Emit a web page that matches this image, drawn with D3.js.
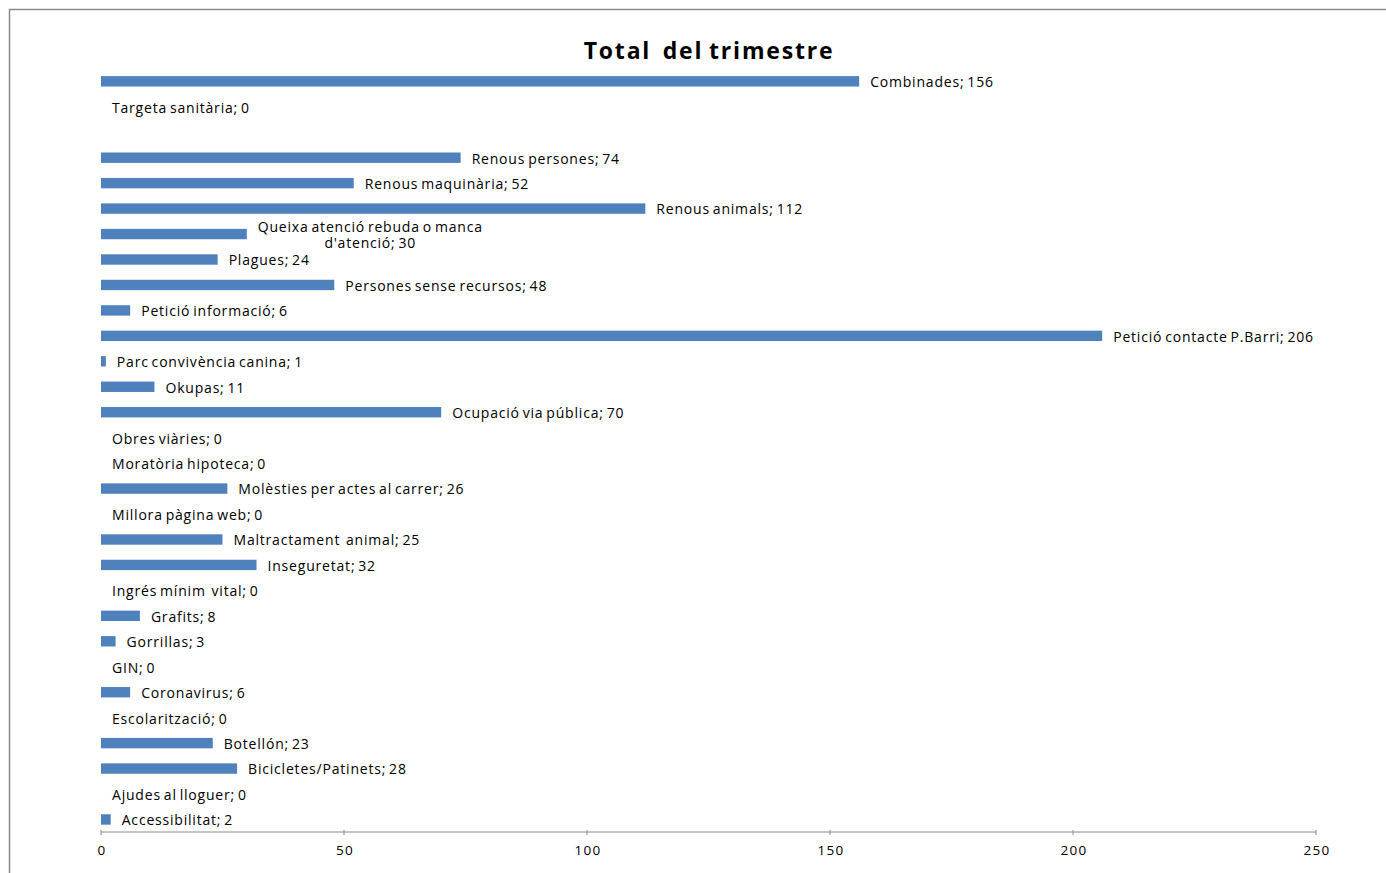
<!DOCTYPE html>
<html><head><meta charset="utf-8">
<script src="https://cdn.jsdelivr.net/npm/d3@7"></script>
<style>
html,body{margin:0;padding:0;background:#fff;}
svg{display:block;}
</style></head>
<body>
<svg id="c" width="1386" height="873"></svg>
<script>
const categories = ["Combinades","Targeta sanitària","","Renous persones","Renous maquinària","Renous animals","Queixa atenció rebuda o manca d'atenció","Plagues","Persones sense recursos","Petició informació","Petició contacte P.Barri","Parc convivència canina","Okupas","Ocupació via pública","Obres viàries","Moratòria hipoteca","Molèsties per actes al carrer","Millora pàgina web","Maltractament  animal","Inseguretat","Ingrés mínim  vital","Grafits","Gorrillas","GIN","Coronavirus","Escolarització","Botellón","Bicicletes/Patinets","Ajudes al lloguer","Accessibilitat"];
const values = [156,0,null,74,52,112,30,24,48,6,206,1,11,70,0,0,26,0,25,32,0,8,3,0,6,0,23,28,0,2];
const xTicks = [0,50,100,150,200,250];
const title = "Total  del trimestre";

const svg = d3.select("#c");
const FONT = "'Open Sans', sans-serif";

// frame
svg.append("path").attr("d","M9.5,873 V9.5 H1386").attr("fill","none").attr("stroke","#8c8c8c").attr("stroke-width",1.5);

const x = d3.scaleLinear().domain([0,250]).range([101,1316]);
const y = d3.scaleBand().domain(d3.range(categories.length)).range([68.6,832.2]).paddingInner(0.6).paddingOuter(0.3);

svg.append("text").attr("x",709).attr("y",59).attr("text-anchor","middle")
  .attr("font-family",FONT).attr("font-weight","bold").attr("font-size",23).attr("fill","#000")
  .attr("letter-spacing","1.8px").attr("word-spacing","-2px")
  .style("white-space","pre").text(title);

const rows = categories.map((c,i)=>({c,v:values[i],i}));

svg.append("g").selectAll("rect").data(rows.filter(d=>d.v!=null && d.v>0)).join("rect")
  .attr("x",x(0)).attr("y",d=>y(d.i)+y.bandwidth()/2-5.2).attr("width",d=>x(d.v)-x(0)).attr("height",10.4)
  .attr("fill","#4f81bd");

// axis
const ax = svg.append("g").attr("transform","translate(0,832)");
ax.append("line").attr("x1",x(0)).attr("x2",x(250)).attr("stroke","#8c8c8c").attr("stroke-width",1);
ax.selectAll("line.t").data(xTicks).join("line").attr("class","t")
  .attr("x1",d=>x(d)).attr("x2",d=>x(d)).attr("y1",-2).attr("y2",3).attr("stroke","#8c8c8c");
ax.selectAll("text").data(xTicks).join("text").attr("x",d=>x(d)+1).attr("y",18).attr("dy","0.35em")
  .attr("text-anchor","middle").attr("font-family",FONT).attr("font-size",13.5).attr("letter-spacing","1.2px")
  .attr("fill","#000").text(d=>d);

// labels
const lg = svg.append("g").attr("font-family",FONT).attr("font-size",14).attr("fill","#000")
  .attr("letter-spacing","0.8px").attr("word-spacing","-1.5px");
rows.filter(d=>d.v!=null && d.c!=="").forEach(d=>{
  const txt = d.c+"; "+d.v;
  const cy = y(d.i)+y.bandwidth()/2+1;
  const x0 = x(d.v)+11;
  const t = lg.append("text").attr("x",x0).attr("y",cy).attr("dy","0.35em").style("white-space","pre").text(txt);
  const w = t.node().getComputedTextLength();
  if (w>300){
    t.remove();
    const words = txt.split(" ");
    const lines=[]; let cur="";
    const meas = lg.append("text").style("white-space","pre");
    words.forEach(wd=>{
      const test = cur?cur+" "+wd:wd;
      meas.text(test);
      if (meas.node().getComputedTextLength()>245 && cur){lines.push(cur);cur=wd;} else cur=test;
    });
    lines.push(cur);
    meas.text(lines[0]); const mw = meas.node().getComputedTextLength(); meas.remove();
    const cx = x0+mw/2;
    const tt = lg.append("text").attr("text-anchor","middle").style("white-space","pre");
    lines.forEach((l,k)=>{
      tt.append("tspan").attr("x",cx).attr("y",cy+(k-(lines.length-1)/2)*16).attr("dy","0.35em").text(l);
    });
  }
});
</script>
</body></html>
